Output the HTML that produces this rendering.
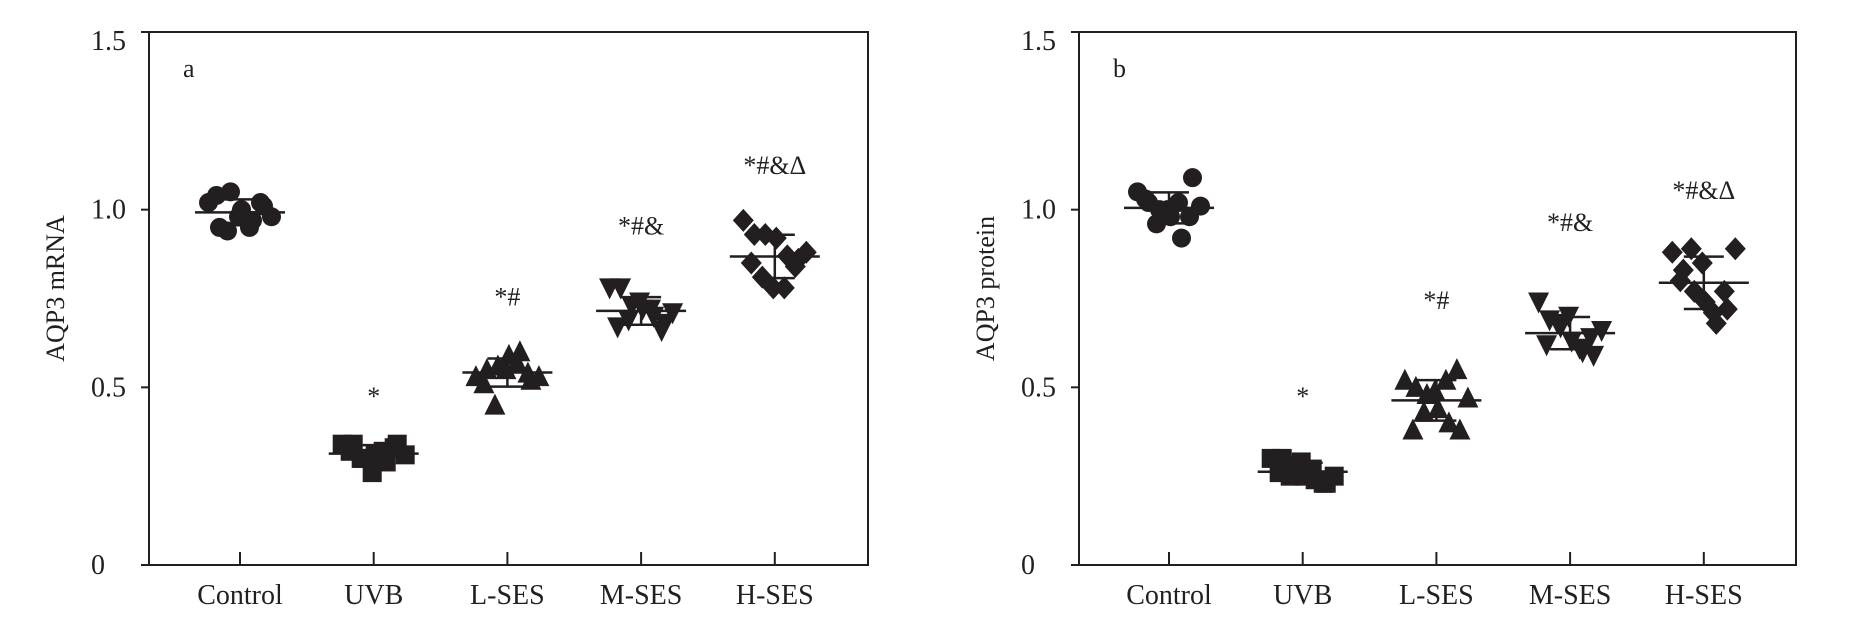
<!DOCTYPE html>
<html><head><meta charset="utf-8"><style>
html,body{margin:0;padding:0;background:#fff;}
svg{display:block;font-family:"Liberation Serif",serif;}
</style></head><body>
<svg id="chart" width="1857" height="625" viewBox="0 0 1857 625"></svg>
<script>
const categories = ["Control","UVB","L-SES","M-SES","H-SES"];
const yTicks = [0,0.5,1.0,1.5];
const yTickLabels = ["0","0.5","1.0","1.5"];
const aControl = [1.02,0.95,1.05,1.0,0.97,1.01,1.04,0.94,0.98,0.95,1.02,0.98];
const aUVB = [0.34,0.34,0.30,0.31,0.29,0.34,0.32,0.30,0.26,0.32,0.33,0.31];
const aLSES = [0.53,0.55,0.56,0.59,0.60,0.52,0.51,0.45,0.55,0.57,0.54,0.53];
const aMSES = [0.78,0.78,0.73,0.72,0.70,0.68,0.67,0.69,0.74,0.72,0.66,0.71];
const aHSES = [0.97,0.93,0.93,0.92,0.87,0.86,0.85,0.81,0.78,0.78,0.84,0.88];
const bControl = [1.05,1.02,1.0,0.98,0.92,1.09,1.03,0.96,1.0,1.02,0.98,1.01];
const bUVB = [0.30,0.30,0.28,0.25,0.24,0.23,0.26,0.25,0.29,0.27,0.23,0.25];
const bLSES = [0.52,0.50,0.48,0.44,0.40,0.38,0.38,0.43,0.49,0.52,0.55,0.47];
const bMSES = [0.74,0.69,0.67,0.63,0.60,0.59,0.62,0.68,0.70,0.61,0.64,0.66];
const bHSES = [0.88,0.83,0.77,0.74,0.68,0.72,0.80,0.89,0.85,0.71,0.77,0.89];
const annotations = ["","*","*#","*#&","*#&Δ"];
const aAnnotY = [0,0.45,0.73,0.93,1.10];
const bAnnotY = [0,0.45,0.72,0.94,1.03];
const shapes = ["circle","square","triangle-up","triangle-down","diamond"];

const NS="http://www.w3.org/2000/svg";
const svg=document.getElementById('chart');
function mk(tag,attrs,parent){const e=document.createElementNS(NS,tag);for(const k in attrs)e.setAttribute(k,attrs[k]);(parent||svg).appendChild(e);return e;}

function drawPanel(p){
  const g=mk('g',{});
  
  
  const y=v=>p.bottom-(v/1.5)*(p.bottom-p.top);
  const x=i=>p.x0+i*p.step;
  const frame=mk('rect',{x:p.left,y:p.top,width:p.right-p.left,height:p.bottom-p.top,fill:'none',stroke:'#231f20','stroke-width':2},g);
  
  
  yTicks.forEach((t,i)=>{
    const tk=mk('line',{x1:p.left-8,x2:p.left,y1:y(t),y2:y(t),stroke:'#231f20','stroke-width':2},g);
    
    
    const tl=mk('text',{x:p.left-58,y:y(t)+(i==yTicks.length-1?18:9),'font-size':28,fill:'#231f20'},g);
    tl.textContent=yTickLabels[i];
    
    
  });
  const yt=mk('text',{transform:`translate(${p.left-85},${(p.top+p.bottom)/2-10}) rotate(-90)`,'text-anchor':'middle','font-size':26,fill:'#231f20'},g);
  yt.textContent=p.ytitle;
  
  
  const pl=mk('text',{x:p.left+34,y:p.top+45,'font-size':26,fill:'#231f20'},g);
  pl.textContent=p.letter;
  
  
  categories.forEach((c,i)=>{
    const tk=mk('line',{x1:x(i),x2:x(i),y1:p.bottom-13,y2:p.bottom,stroke:'#231f20','stroke-width':2},g);
    
    
    const tl=mk('text',{x:x(i),y:p.bottom+39,'text-anchor':'middle','font-size':28,fill:'#231f20'},g);
    tl.textContent=c;
    
    
    const vals=p.series[i];
    const n=vals.length;
    vals.forEach((v,j)=>{
      const off=((j%6)-2.5)*11+(j<6?-4:4);
      const cx=x(i)+off, cy=y(v), s=9.5;
      let m;
      const sh=shapes[i];
      if(sh==='circle') m=mk('circle',{cx:cx,cy:cy,r:s},g);
      else if(sh==='square') m=mk('rect',{x:cx-s,y:cy-s,width:2*s,height:2*s},g);
      else if(sh==='triangle-up') m=mk('polygon',{points:`${cx},${cy-s-2} ${cx+s+1},${cy+s} ${cx-s-1},${cy+s}`},g);
      else if(sh==='triangle-down') m=mk('polygon',{points:`${cx},${cy+s+2} ${cx+s+1},${cy-s} ${cx-s-1},${cy-s}`},g);
      else m=mk('polygon',{points:`${cx},${cy-s-2} ${cx+s+1},${cy} ${cx},${cy+s+2} ${cx-s-1},${cy}`},g);
      m.setAttribute('fill','#231f20');
      
      
    });
    const mean=vals.reduce((a,b)=>a+b,0)/n;
    const sd=Math.sqrt(vals.reduce((a,b)=>a+(b-mean)*(b-mean),0)/(n-1));
    const lines=[[x(i)-45,x(i)+45,y(mean),y(mean)],[x(i)-20,x(i)+20,y(mean+sd),y(mean+sd)],[x(i)-20,x(i)+20,y(mean-sd),y(mean-sd)],[x(i),x(i),y(mean+sd),y(mean-sd)]];
    lines.forEach((l,k)=>{
      const e=mk('line',{x1:l[0],x2:l[1],y1:l[2],y2:l[3],stroke:'#231f20','stroke-width':2.5},g);
      
      
    });
    if(annotations[i]){
      const a=mk('text',{x:x(i),y:y(p.annotY[i]),'text-anchor':'middle','font-size':26,fill:'#231f20'},g);
      a.textContent=annotations[i];
      
      
    }
  });
}
drawPanel({letter:'a',ytitle:'AQP3 mRNA',left:149,right:868,top:32,bottom:565,x0:240,step:133.7,series:[aControl,aUVB,aLSES,aMSES,aHSES],annotY:aAnnotY});
drawPanel({letter:'b',ytitle:'AQP3 protein',left:1079,right:1796,top:32,bottom:565,x0:1169,step:133.7,series:[bControl,bUVB,bLSES,bMSES,bHSES],annotY:bAnnotY});
</script>
</body></html>
